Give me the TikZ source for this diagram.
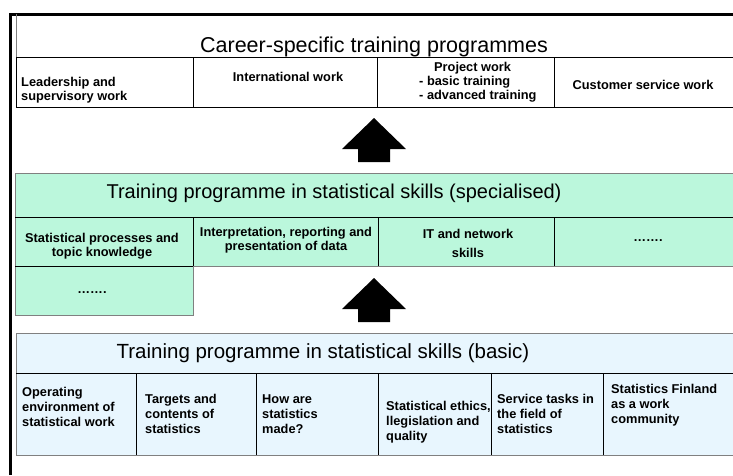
\documentclass[tikz,border=0pt]{standalone}
\usepackage{fontspec}
\setmainfont{Liberation Sans}
\usetikzlibrary{calc}

\definecolor{specgreen}{RGB}{187,247,220}
\definecolor{basicblue}{RGB}{232,246,254}
\definecolor{edgegray}{RGB}{128,128,128}

\tikzset{
  title/.style={anchor=base, font=\fontsize{20.5}{23}\selectfont},
  cell/.style={font=\fontsize{12.8}{14}\selectfont\bfseries, align=center, inner sep=0pt},
  lcell/.style={cell, align=left, anchor=west},
  tallcell/.style={lcell, font=\fontsize{12.8}{14.8}\selectfont\bfseries},
  frame/.style={line width=3pt, black},
  edge/.style={edgegray, line width=1pt},
  grid/.style={black, line width=0.8pt},
  blockarrow/.style={fill=black, draw=none}
}

\begin{document}
\begin{tikzpicture}[x=1pt, y=-1pt]
\useasboundingbox (0,0) rectangle (733,475);
\clip (0,0) rectangle (733,475);

%the frame
\draw [frame] (10,475) -- (10,14) -- (733,14);

%career-specific programmes
\draw [edge] (16,14) -- (16,57);
\draw [grid] (16,57) rectangle (740,107);
\foreach \x in {193,377,554} \draw [grid] (\x,57) -- (\x,107);
\node [title, font=\fontsize{21.5}{24}\selectfont] (career) at (374,52) {Career-specific training programmes};
\node [lcell] (leader) at (21,90) {Leadership and\\supervisory work};
\node [cell] (intl) at (288,77) {International work};
\node [lcell] (project) at (419,82) {\hspace*{15pt}Project work\\- basic training\\- advanced training};
\node [cell] (customer) at (643,85) {Customer service work};

%the arrows
\foreach \s in {0,160}
  \fill [blockarrow, yshift=-\s] (374,118) -- (406,149) -- (390,149) -- (390,162)
    -- (358,162) -- (358,149) -- (342,149) -- cycle;

%specialised programme
\fill [specgreen] (15,173) rectangle (740,266);
\fill [specgreen] (15,266) rectangle (193,315);
\draw [edge] (740,173) -- (15,173) -- (15,315) -- (193,315) -- (193,266) -- (740,266);
\draw [grid] (15,217) -- (740,217);
\draw [grid] (15,266) -- (193,266);
\foreach \x in {193,378,554} \draw [grid] (\x,217) -- (\x,266);
\node [title, font=\fontsize{20}{23}\selectfont] (special) at (334,198) {Training programme in statistical skills (specialised)};
\node [cell] (statproc) at (102,246) {Statistical processes and\\topic knowledge};
\node [cell] (interp) at (286,240) {Interpretation, reporting and\\presentation of data};
\node [cell] (itnet) at (468,243) {IT and network\\[5pt]skills};
\node [cell] (moreA) at (648,241) {…….};
\node [cell] (moreB) at (92,293) {…….};

%basic programme
\fill [basicblue] (16,333) rectangle (740,455);
\draw [edge] (740,333) -- (16,333) -- (16,455) -- (740,455);
\draw [grid] (16,373) -- (740,373);
\foreach \x in {136,256,378,491,603} \draw [grid] (\x,373) -- (\x,455);
\node [title] (basic) at (323,358) {Training programme in statistical skills (basic)};
\node [tallcell] (environ) at (22,407) {Operating\\environment of\\statistical work};
\node [tallcell] (targets) at (145,414) {Targets and\\contents of\\statistics};
\node [tallcell] (howmade) at (262,414) {How are\\statistics\\made?};
\node [tallcell] (ethics) at (386,422) {Statistical ethics,\\llegislation and\\quality};
\node [tallcell] (service) at (497,414) {Service tasks in\\the field of\\statistics};
\node [tallcell] (community) at (611,405) {Statistics Finland\\as a work\\community};
\end{tikzpicture}
\end{document}
